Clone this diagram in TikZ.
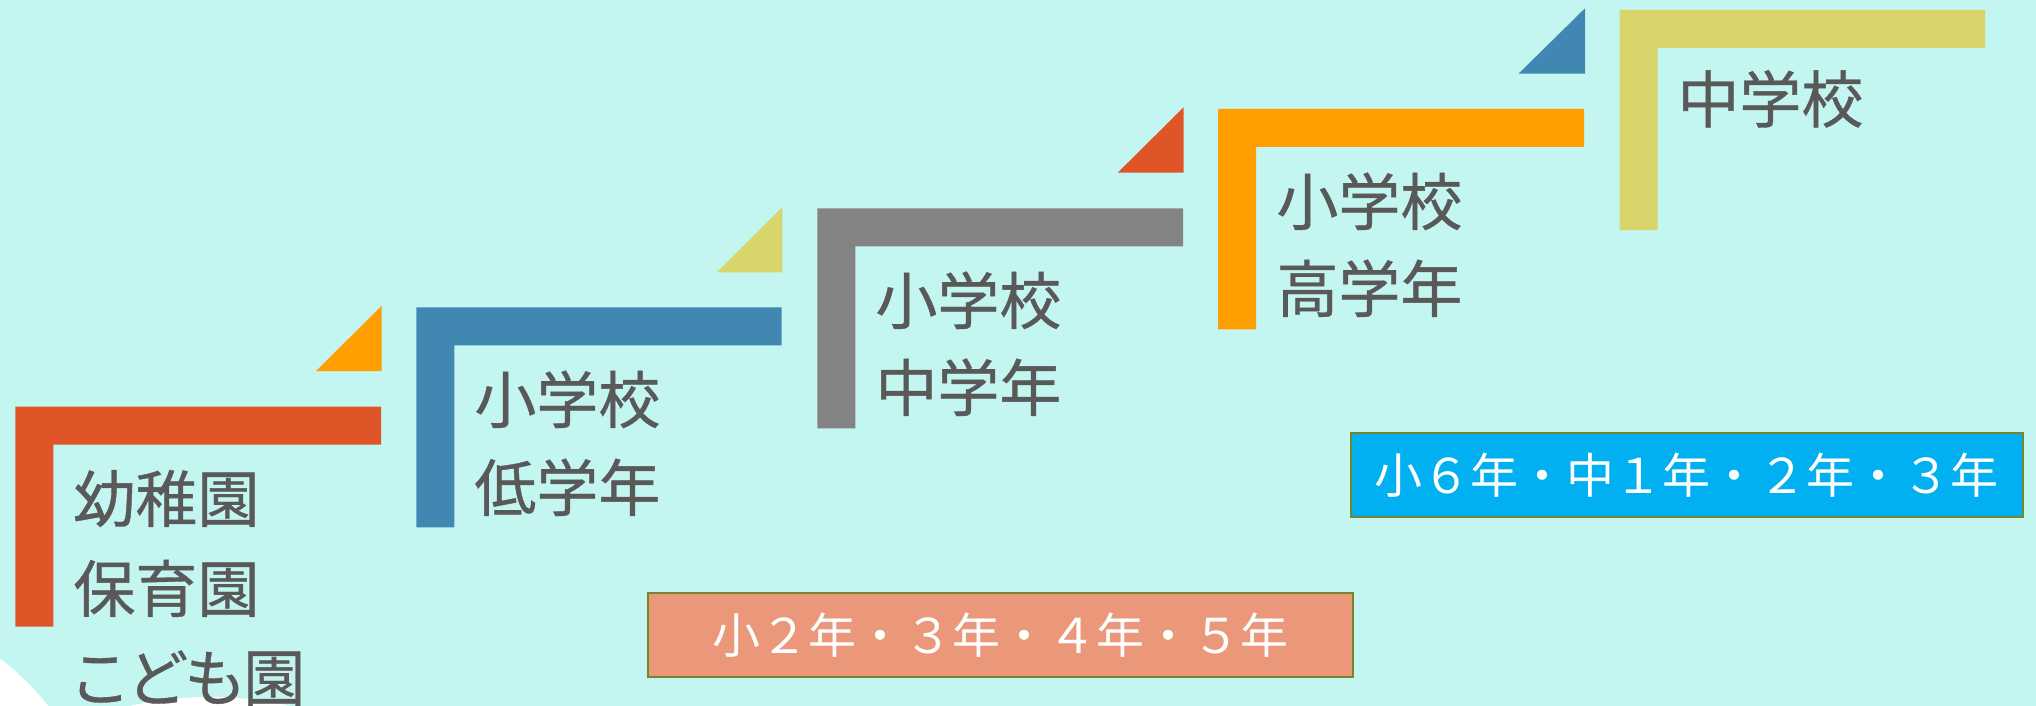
\documentclass[tikz,border=0pt]{standalone}
\usepackage{fontspec}
\newfontfamily\jp[FakeBold=0.6]{Noto Sans CJK JP}
\newfontfamily\jpp[FakeBold=0.6,RawFeature=+palt]{Noto Sans CJK JP}
\newfontfamily\jpw{Noto Sans CJK JP}
\definecolor{bg}{HTML}{C4F6F1}
\definecolor{cred}{HTML}{E05527}
\definecolor{corange}{HTML}{FF9E00}
\definecolor{cblue}{HTML}{4088B2}
\definecolor{cyellow}{HTML}{D8D56A}
\definecolor{cgray}{HTML}{838383}
\definecolor{txt}{HTML}{595959}
\definecolor{salmon}{HTML}{EB977A}
\definecolor{cyanbox}{HTML}{00B0F0}
\definecolor{olive}{HTML}{76862A}
\newcommand{\Lshape}[5]{% color, left, top, right, bottom
  \fill[#1] (#2,#3) -- (#4,#3) -- (#4,#3+38) -- (#2+38,#3+38) -- (#2+38,#5) -- (#2,#5) -- cycle;}
\begin{document}
\begin{tikzpicture}[x=0.5pt,y=-0.5pt,
  lbl/.style={font=\jp\fontsize{31pt}{31pt}\selectfont, text=txt, inner sep=0pt, anchor=base west},
  gradebox/.style={draw=olive, line width=1pt, inner sep=0pt, text=white,
    font=\jpw\fontsize{24pt}{24pt}\selectfont}]
\fill[bg] (0,0) rectangle (2036,706);
\useasboundingbox (0,0) rectangle (2036,706);
\begin{scope}
  \clip (0,0) rectangle (2036,706);
  \fill[white] (-150,860) circle (125.5pt);
  \fill[white] (210,1057) circle (180pt);
\end{scope}
% L shapes
\Lshape{cred}{15.3}{406.7}{381}{626.7}
\Lshape{cblue}{416.3}{307.3}{781.7}{527.3}
\Lshape{cgray}{817.3}{208.3}{1183}{428.3}
\Lshape{corange}{1218.2}{109}{1584}{329.3}
\Lshape{cyellow}{1619.5}{10}{1985.2}{230}
% triangles
\fill[corange] (316,371) -- (381.5,371) -- (381.5,306) -- cycle;
\fill[cyellow] (716.7,272.3) -- (782.3,272.3) -- (782.3,207.3) -- cycle;
\fill[cred] (1117.7,172.7) -- (1183.7,172.7) -- (1183.7,107.3) -- cycle;
\fill[cblue] (1518.5,73.7) -- (1585,73.7) -- (1585,8.3) -- cycle;
% labels
\node[lbl] (r1) at (73,522) {幼稚園};
\node[lbl] (r2) at (73,612) {保育園};
\node[lbl, font=\jpp\fontsize{31pt}{31pt}\selectfont] (r3) at (73,701) {こども園};
\node[lbl] (b1) at (474,423) {小学校};
\node[lbl] (b2) at (474,511) {低学年};
\node[lbl] (g1) at (875,324) {小学校};
\node[lbl] (g2) at (875,411) {中学年};
\node[lbl] (o1) at (1276,225) {小学校};
\node[lbl] (o2) at (1276,312) {高学年};
\node[lbl] (y1) at (1677,122.5) {中学校};
% grade boxes
\node[gradebox, fill=salmon, minimum width=352.35pt, minimum height=42pt] (box1) at (1000.7,634.7) {小２年・３年・４年・５年};
\node[gradebox, fill=cyanbox, minimum width=335.75pt, minimum height=41.85pt] (box2) at (1686.9,475.2) {小６年・中１年・２年・３年};
\end{tikzpicture}
\end{document}
